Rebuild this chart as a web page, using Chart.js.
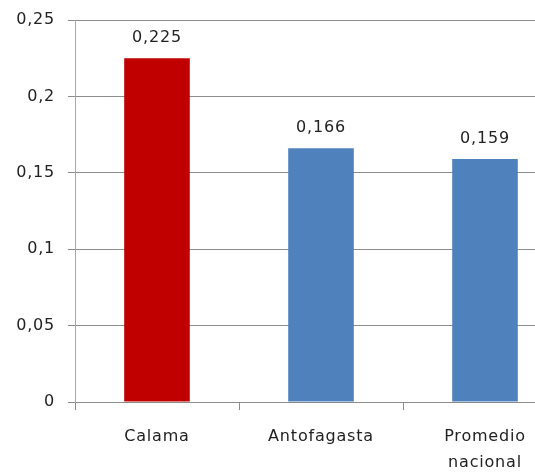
<!DOCTYPE html>
<html>
<head>
<meta charset="utf-8">
<script src="https://cdn.jsdelivr.net/npm/chart.js@4.4.1/dist/chart.umd.min.js"></script>
<style>
  html, body { margin: 0; padding: 0; background: #fff; overflow: hidden; }
  #wrap { width: 575px; height: 472px; }
</style>
</head>
<body>
<div id="wrap"><canvas id="grafico" width="575" height="472"></canvas></div>
<script>
// Datos del gráfico
const categorias = ['Calama', 'Antofagasta', ['Promedio', 'nacional']];
const valores = [0.225, 0.166, 0.159];
const etiquetasValor = ['0,225', '0,166', '0,159'];
const ticksY = ['0', '0,05', '0,1', '0,15', '0,2', '0,25'];

const fuente = { family: 'DejaVu Sans', size: 16 };
const colorTexto = '#222';
const espaciado = '0.8px';

// Espaciado de letras (el canvas lo pierde al redimensionarse)
const espaciadoLetras = {
    id: 'espaciadoLetras',
    beforeUpdate(chart) { chart.ctx.letterSpacing = espaciado; },
    beforeDraw(chart) { chart.ctx.letterSpacing = espaciado; }
};

// Etiquetas encima de cada barra
const etiquetasBarras = {
    id: 'etiquetasBarras',
    afterDatasetsDraw(chart) {
        const ctx = chart.ctx;
        const meta = chart.getDatasetMeta(0);
        ctx.save();
        ctx.font = fuente.size + 'px ' + fuente.family;
        ctx.fillStyle = colorTexto;
        ctx.textAlign = 'center';
        ctx.textBaseline = 'alphabetic';
        meta.data.forEach((bar, i) => {
            ctx.fillText(etiquetasValor[i], bar.x, bar.y - 16);
        });
        ctx.restore();
    }
};

new Chart(document.getElementById('grafico'), {
    type: 'bar',
    data: {
        labels: categorias,
        datasets: [{
            data: valores,
            backgroundColor: ['#C00000', '#4F81BD', '#4F81BD'],
            borderWidth: 0,
            categoryPercentage: 0.8,
            barPercentage: 0.5
        }]
    },
    options: {
        responsive: false,
        animation: false,
        layout: { padding: { top: 20, right: 8, left: 0, bottom: 0 } },
        plugins: {
            legend: { display: false },
            tooltip: { enabled: false }
        },
        scales: {
            x: {
                grid: {
                    drawOnChartArea: false,
                    drawTicks: true,
                    tickLength: 8,
                    color: '#8c8c8c'
                },
                border: { color: '#8c8c8c' },
                ticks: {
                    font: { family: fuente.family, size: fuente.size, lineHeight: 1.6 },
                    color: colorTexto,
                    padding: 14,
                    maxRotation: 0,
                    autoSkip: false
                },
                afterFit(scale) { scale.height = 70; }
            },
            y: {
                min: 0,
                max: 0.25,
                grid: {
                    color: '#8c8c8c',
                    tickLength: 7
                },
                border: { color: '#a8a8a8' },
                ticks: {
                    stepSize: 0.05,
                    font: fuente,
                    color: colorTexto,
                    padding: 13,
                    callback: (v, i) => ticksY[i]
                },
                afterFit(scale) {
                    scale.width = 75;
                    scale.paddingTop = 0;
                    scale.paddingBottom = 0;
                }
            }
        }
    },
    plugins: [espaciadoLetras, etiquetasBarras]
});
</script>
</body>
</html>
